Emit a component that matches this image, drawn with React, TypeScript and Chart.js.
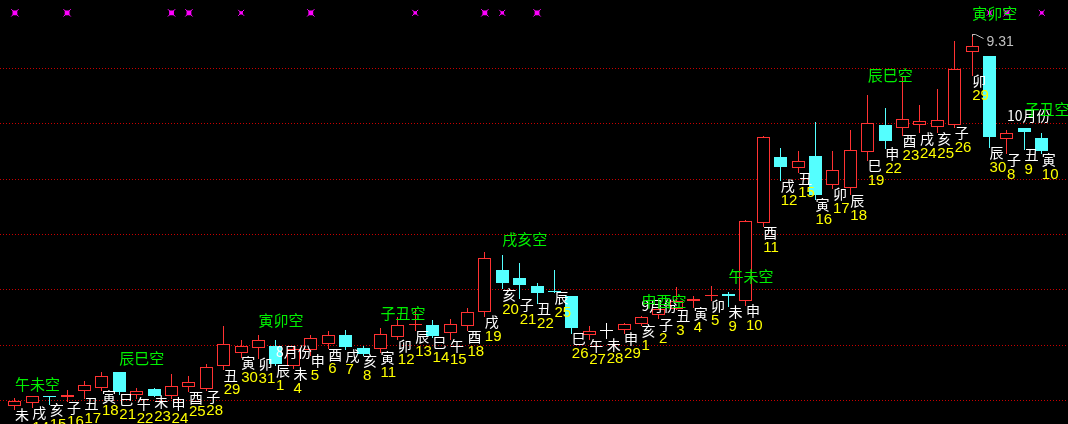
import React, { useEffect, useRef } from "react";
import { Chart, registerables } from "chart.js";

Chart.register(...registerables);

// ---- data ----
const branches = [
  "未", "戌", "亥", "子", "丑", "寅", "巳", "午", "未", "申",
  "酉", "子", "丑", "寅", "卯", "辰", "未", "申", "酉", "戌",
  "亥", "寅", "卯", "辰", "巳", "午", "酉", "戌", "亥", "子",
  "丑", "辰", "巳", "午", "未", "申", "亥", "子", "丑", "寅",
  "卯", "未", "申", "酉", "戌", "丑", "寅", "卯", "辰", "巳",
  "申", "酉", "戌", "亥", "子", "卯", "辰", "子", "丑", "寅",
];
const days = [
  11, 14, 15, 16, 17, 18, 21, 22, 23, 24,
  25, 28, 29, 30, 31, 1, 4, 5, 6, 7,
  8, 11, 12, 13, 14, 15, 18, 19, 20, 21,
  22, 25, 26, 27, 28, 29, 1, 2, 3, 4,
  5, 9, 10, 11, 12, 15, 16, 17, 18, 19,
  22, 23, 24, 25, 26, 29, 30, 8, 9, 10,
];
const openP = [
  5.95, 5.97, 6.04, 6.03, 6.08, 6.11, 6.25, 6.05, 6.10, 6.04,
  6.12, 6.10, 6.31, 6.43, 6.47, 6.49, 6.31, 6.45, 6.51, 6.59,
  6.47, 6.46, 6.57, 6.68, 6.68, 6.61, 6.67, 6.80, 7.18, 7.10,
  7.03, 6.99, 6.94, 6.59, 6.62, 6.63, 6.69, 6.77, 6.82, 6.90,
  6.94, 6.96, 6.90, 7.60, 8.20, 8.10, 8.21, 7.94, 7.92, 8.24,
  8.49, 8.46, 8.49, 8.47, 8.49, 9.15, 9.11, 8.36, 8.46, 8.37,
];
const highP = [
  6.02, 6.04, 6.04, 6.09, 6.17, 6.25, 6.25, 6.11, 6.11, 6.24,
  6.22, 6.33, 6.67, 6.54, 6.59, 6.54, 6.49, 6.59, 6.62, 6.63,
  6.49, 6.65, 6.75, 6.82, 6.72, 6.73, 6.83, 7.34, 7.31, 7.24,
  7.06, 7.18, 6.94, 6.67, 6.70, 6.70, 6.76, 6.84, 7.02, 6.94,
  7.03, 6.98, 7.63, 8.39, 8.28, 8.25, 8.51, 8.25, 8.44, 8.76,
  8.64, 8.92, 8.67, 8.81, 9.25, 9.31, 9.11, 8.44, 8.46, 8.41,
];
const lowP = [
  5.91, 5.93, 5.96, 5.98, 6.01, 6.08, 6.05, 6.01, 6.03, 6.01,
  6.07, 6.08, 6.27, 6.38, 6.37, 6.31, 6.28, 6.40, 6.46, 6.45,
  6.40, 6.43, 6.54, 6.62, 6.56, 6.54, 6.62, 6.75, 7.00, 6.91,
  6.87, 6.97, 6.60, 6.54, 6.55, 6.60, 6.67, 6.73, 6.81, 6.83,
  6.90, 6.84, 6.85, 7.56, 7.98, 8.05, 7.81, 7.91, 7.85, 8.16,
  8.27, 8.39, 8.41, 8.41, 8.46, 8.93, 8.28, 8.22, 8.26, 8.22,
];
const closeP = [
  5.99, 6.04, 6.03, 6.05, 6.14, 6.22, 6.07, 6.08, 6.04, 6.13,
  6.16, 6.30, 6.51, 6.49, 6.54, 6.33, 6.46, 6.56, 6.59, 6.48,
  6.42, 6.60, 6.68, 6.69, 6.58, 6.69, 6.80, 7.28, 7.06, 7.04,
  6.97, 6.98, 6.65, 6.62, 6.62, 6.69, 6.75, 6.82, 6.90, 6.91,
  6.95, 6.94, 7.62, 8.38, 8.11, 8.16, 7.85, 8.08, 8.26, 8.50,
  8.34, 8.54, 8.52, 8.53, 8.99, 9.20, 8.38, 8.41, 8.42, 8.25,
];
const voidIdx = [0, 6, 14, 21, 28, 36, 41, 49, 55, 58];
const voidText = ["午未空", "辰巳空", "寅卯空", "子丑空", "戌亥空", "申酉空", "午未空", "辰巳空", "寅卯空", "子丑空"];
const monthIdx = [15, 36, 57];
const monthText = ["8月份", "9月份", "10月份"];
const monthLevel = [6.44, 6.85, 8.57];
const bigMarkIdx = [0, 3, 9, 10, 17, 27, 30, 57];
const smallMarkIdx = [13, 23, 28, 56, 59];
const markLevel = 9.5;
const gridLevels = [6.0, 6.5, 7.0, 7.5, 8.0, 8.5, 9.0];
const yMin = 5.84;
const yMax = 9.56;

// ---- styles ----
const UP = "#ff3232";
const DOWN = "#54ffff";
const FLAT = "#ffffff";
const GRID = "#c80000";
const GREEN = "#00f000";
const MAGENTA = "#ff00ff";
const CJK = '"Noto Sans CJK SC"';

const candleColor = (i: number) =>
  closeP[i] > openP[i] ? UP : closeP[i] < openP[i] ? DOWN : FLAT;

const bgPlugin = {
  id: "bg",
  beforeDraw(chart: any) {
    const { ctx, width, height } = chart;
    ctx.save();
    ctx.fillStyle = "#000000";
    ctx.fillRect(0, 0, width, height);
    ctx.restore();
  },
  beforeDatasetsDraw(chart: any) {
    // snap the library-computed bar geometry to whole pixels for crisp candles
    chart.data.datasets.forEach((ds: any, di: number) => {
      if (ds.type !== "bar") return;
      const meta = chart.getDatasetMeta(di);
      meta.data.forEach((el: any) => {
        el.x = Math.floor(el.x) + 0.5;
        let top = Math.round(Math.min(el.y, el.base));
        let bot = Math.round(Math.max(el.y, el.base));
        if (bot - top < 1) bot = top + 1;
        el.y = top;
        el.base = bot;
        el.height = bot - top;
      });
    });
    const { ctx, width } = chart;
    const y = chart.scales.y;
    ctx.save();
    ctx.strokeStyle = GRID;
    ctx.lineWidth = 1;
    ctx.setLineDash([1, 2]);
    gridLevels.forEach((g) => {
      const py = Math.round(y.getPixelForValue(g)) + 0.5;
      ctx.beginPath();
      ctx.moveTo(0, py);
      ctx.lineTo(width, py);
      ctx.stroke();
    });
    ctx.restore();
  },
};

const textPlugin = {
  id: "texts",
  afterDatasetsDraw(chart: any) {
    const { ctx } = chart;
    const x = chart.scales.x;
    const y = chart.scales.y;
    ctx.save();
    ctx.textAlign = "left";
    ctx.textBaseline = "middle";
    for (let i = 0; i < branches.length; i++) {
      const px = x.getPixelForValue(i);
      const pl = y.getPixelForValue(lowP[i]);
      ctx.font = `14px ${CJK}`;
      ctx.fillStyle = "#ffffff";
      ctx.fillText(branches[i], px, pl + 5);
      ctx.font = '15px "Liberation Sans"';
      ctx.fillStyle = "#ffff00";
      ctx.fillText(String(days[i]), px, pl + 20);
    }
    monthIdx.forEach((idx, k) => {
      const px = x.getPixelForValue(idx);
      const py = y.getPixelForValue(monthLevel[k]);
      ctx.font = `14px ${CJK}`;
      ctx.fillStyle = "#ffffff";
      ctx.fillText(monthText[k], px, py);
    });
    voidIdx.forEach((idx, k) => {
      const px = x.getPixelForValue(idx);
      const py = y.getPixelForValue(highP[idx] * 1.02);
      ctx.font = `15px ${CJK}`;
      ctx.fillStyle = GREEN;
      ctx.fillText(voidText[k], px, py);
    });
    // max price marker
    let mi = 0;
    highP.forEach((h, i) => {
      if (h > highP[mi]) mi = i;
    });
    const mx = Math.floor(x.getPixelForValue(mi)) + 0.5;
    const my = Math.round(y.getPixelForValue(highP[mi])) + 0.5;
    ctx.strokeStyle = "#c0c0c0";
    ctx.lineWidth = 1;
    ctx.beginPath();
    ctx.moveTo(mx, my + 2);
    ctx.lineTo(mx, my);
    ctx.lineTo(mx + 3, my);
    ctx.lineTo(mx + 11, my + 4);
    ctx.stroke();
    ctx.font = '14px "Liberation Sans"';
    ctx.fillStyle = "#c0c0c0";
    ctx.fillText(highP[mi].toFixed(2), mx + 14, my + 8);
    ctx.restore();
  },
};

export default function App() {
  const canvasRef = useRef<HTMLCanvasElement | null>(null);

  useEffect(() => {
    document.body.style.margin = "0";
    document.body.style.background = "#000";
    document.body.style.overflow = "hidden";
    const canvas = canvasRef.current;
    if (!canvas) return;

    const labels = days.map((d, i) => `${branches[i]}${d}`);
    const colors = labels.map((_, i) => candleColor(i));
    const marked = (i: number) => bigMarkIdx.includes(i) || smallMarkIdx.includes(i);
    const markData = labels.map((_, i) => (marked(i) ? markLevel : null));
    const rectR = labels.map((_, i) => (bigMarkIdx.includes(i) ? 3.4 : smallMarkIdx.includes(i) ? 2.4 : 0));
    const crossR = labels.map((_, i) => (bigMarkIdx.includes(i) ? 5.2 : smallMarkIdx.includes(i) ? 4.2 : 0));

    const chart = new Chart(canvas, {
      type: "bar",
      data: {
        labels,
        datasets: [
          {
            type: "bar",
            label: "body",
            data: openP.map((o, i) => [o, closeP[i]]) as any,
            backgroundColor: labels.map((_, i) => (colors[i] === UP ? "#000000" : colors[i])),
            borderColor: colors,
            borderWidth: 1,
            borderSkipped: false,
            barThickness: 13,
            minBarLength: 1,
            grouped: false,
            inflateAmount: 0,
            order: 1,
          } as any,
          {
            type: "bar",
            label: "wick",
            data: lowP.map((l, i) => [l, highP[i]]) as any,
            backgroundColor: colors,
            borderWidth: 0,
            barThickness: 1,
            grouped: false,
            inflateAmount: 0,
            order: 2,
          } as any,
          {
            type: "line",
            label: "markRect",
            data: markData as any,
            showLine: false,
            pointStyle: "rect",
            pointRadius: rectR,
            pointBackgroundColor: MAGENTA,
            pointBorderColor: MAGENTA,
            pointBorderWidth: 0,
            order: 0,
          } as any,
          {
            type: "line",
            label: "markCross",
            data: markData as any,
            showLine: false,
            pointStyle: "crossRot",
            pointRadius: crossR,
            pointBorderColor: MAGENTA,
            pointBorderWidth: 1,
            order: 0,
          } as any,
        ],
      },
      options: {
        responsive: false,
        maintainAspectRatio: false,
        animation: false,
        events: [],
        layout: { padding: { left: 0.5, right: 17.5, top: 0, bottom: 0 } },
        plugins: { legend: { display: false }, tooltip: { enabled: false } },
        scales: {
          x: { type: "category", display: false, offset: true },
          y: { type: "linear", display: false, min: yMin, max: yMax },
        },
      },
      plugins: [bgPlugin, textPlugin],
    });
    return () => chart.destroy();
  }, []);

  return (
    <div style={{ width: 1068, height: 424, background: "#000", overflow: "hidden" }}>
      <canvas ref={canvasRef} width={1068} height={424} style={{ display: "block" }} />
    </div>
  );
}
